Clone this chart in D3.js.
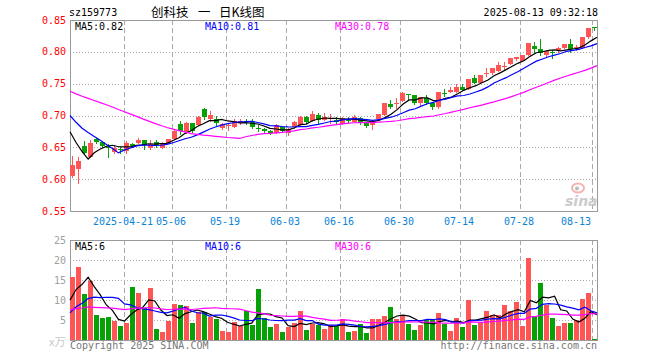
<!DOCTYPE html>
<html><head><meta charset="utf-8">
<script src="https://cdn.jsdelivr.net/npm/d3@7/dist/d3.min.js"></script>
<style>body{margin:0;background:#fff}svg{display:block}</style>
</head><body>
<svg id="c" width="660" height="360"></svg>
<script>
// ---------- data ----------
const stockCode = "sz159773";
const titleParts = ["创科技", "一", "日K线图"];
const timestamp = "2025-08-13 09:32:18";
const priceTicks = [0.55, 0.60, 0.65, 0.70, 0.75, 0.80, 0.85];
const volTicks = [5, 10, 15, 20, 25];
const dateTickIdx = [9, 17, 26, 36, 45, 55, 65, 75, 87];
const dateTickLabels = ["2025-04-21", "05-06", "05-19", "06-03", "06-16", "06-30", "07-14", "07-28", "08-13"];

const open = [0.6054,0.6164,0.6521,0.6353,0.6636,0.6579,0.6510,0.6427,0.6478,0.6443,
0.6552,0.6573,0.6615,0.6490,0.6579,0.6497,0.6563,0.6626,0.6867,0.6741,
0.6878,0.6851,0.7102,0.6945,0.6945,0.6804,0.6835,0.6819,0.6882,0.6914,
0.6898,0.6804,0.6788,0.6757,0.6720,0.6812,0.6720,0.6819,0.6851,0.6976,
0.6906,0.7008,0.6929,0.6945,0.6929,0.6867,0.6935,0.6903,0.6956,0.6887,
0.6851,0.6940,0.7008,0.7181,0.7192,0.7233,0.7340,0.7322,0.7192,0.7270,
0.7201,0.7129,0.7361,0.7369,0.7374,0.7448,0.7412,0.7584,0.7515,0.7657,
0.7663,0.7699,0.7762,0.7804,0.7883,0.7856,0.7950,0.8092,0.8045,0.7950,
0.7997,0.8024,0.8055,0.8118,0.8055,0.8065,0.8233,0.8397];
const high = [0.6369,0.6353,0.6600,0.6615,0.6650,0.6585,0.6552,0.6535,0.6510,0.6592,
0.6573,0.6642,0.6615,0.6615,0.6608,0.6584,0.6636,0.6775,0.6914,0.6898,
0.6878,0.6992,0.7122,0.7071,0.6992,0.6882,0.6875,0.6945,0.6945,0.6945,
0.6945,0.6851,0.6804,0.6772,0.6866,0.6835,0.6800,0.6910,0.6990,0.7000,
0.7071,0.7044,0.7039,0.7024,0.6972,0.6970,0.6972,0.7008,0.6981,0.6887,
0.6903,0.7024,0.7201,0.7243,0.7270,0.7374,0.7340,0.7322,0.7296,0.7322,
0.7201,0.7369,0.7412,0.7443,0.7495,0.7495,0.7573,0.7636,0.7636,0.7741,
0.7741,0.7840,0.7845,0.7898,0.7924,0.7950,0.8139,0.8147,0.8194,0.8029,
0.8029,0.8081,0.8118,0.8197,0.8107,0.8238,0.8379,0.8397];
const low = [0.6039,0.5935,0.6406,0.6353,0.6563,0.6505,0.6353,0.6406,0.6406,0.6416,
0.6510,0.6563,0.6478,0.6480,0.6510,0.6487,0.6563,0.6626,0.6709,0.6720,
0.6736,0.6850,0.6945,0.6914,0.6851,0.6788,0.6780,0.6819,0.6867,0.6867,
0.6804,0.6757,0.6740,0.6709,0.6720,0.6740,0.6686,0.6810,0.6845,0.6890,
0.6906,0.6867,0.6929,0.6890,0.6867,0.6867,0.6878,0.6903,0.6867,0.6824,
0.6788,0.6940,0.7008,0.7118,0.7118,0.7233,0.7243,0.7181,0.7165,0.7176,
0.7107,0.7118,0.7306,0.7369,0.7369,0.7400,0.7412,0.7515,0.7515,0.7620,
0.7652,0.7699,0.7715,0.7804,0.7872,0.7856,0.7950,0.7982,0.7950,0.7919,
0.7898,0.8002,0.8055,0.7993,0.8029,0.8065,0.8222,0.8343];
const close = [0.6227,0.6285,0.6406,0.6573,0.6579,0.6526,0.6490,0.6494,0.6458,0.6568,
0.6520,0.6611,0.6531,0.6552,0.6537,0.6563,0.6626,0.6761,0.6761,0.6887,
0.6761,0.6972,0.6969,0.7008,0.6882,0.6867,0.6845,0.6914,0.6914,0.6898,
0.6819,0.6788,0.6757,0.6725,0.6851,0.6757,0.6788,0.6898,0.6984,0.6898,
0.7016,0.6929,0.6976,0.6961,0.6898,0.6956,0.6925,0.6981,0.6878,0.6835,
0.6903,0.7024,0.7192,0.7141,0.7201,0.7349,0.7338,0.7201,0.7296,0.7201,
0.7129,0.7369,0.7353,0.7400,0.7453,0.7400,0.7573,0.7515,0.7636,0.7663,
0.7741,0.7793,0.7770,0.7898,0.7914,0.7950,0.8131,0.8037,0.7977,0.8013,
0.7990,0.8055,0.8118,0.8045,0.8081,0.8238,0.8379,0.8395];
const volume = [15.8,18.3,11.5,14.8,6.25,5.5,5.75,4.8,3.5,4.2,
13.25,11.75,8.0,13.0,2.75,2.0,4.8,9.0,8.75,8.5,
4.25,7.0,7.0,5.75,5.25,2.25,2.0,4.5,3.5,7.25,
3.75,12.75,5.5,3.25,4.0,2.0,3.25,4.25,7.25,2.5,
4.0,3.75,2.75,3.75,3.5,5.25,2.0,2.25,4.0,1.75,
5.25,5.25,6.0,8.25,5.25,6.25,4.0,2.5,3.75,5.0,
5.0,6.75,4.0,2.25,5.5,3.25,10.0,3.75,4.25,7.25,
6.25,6.25,8.75,7.25,9.5,3.5,20.5,5.75,14.25,8.75,
5.5,3.5,4.25,4.25,5.0,10.25,11.75,0.25];
// sessions before the first visible day (estimated from where the MA lines start)
const priorCloses = [0.748,0.752,0.760,0.758,0.754,0.749,0.756,0.761,0.760,
0.765,0.770,0.768,0.762,0.758,0.760,0.755,0.752,0.750,0.748,0.754,
0.735,0.734,0.725,0.718,0.715,0.713,0.712,0.716,0.609];
const priorVolumes = [8.5,7.2,6.8,9.1,8.0,7.4,6.9,8.8,9.5,7.6,7.0,8.2,7.7,6.5,8.9,9.3,7.1,7.8,6.9,8.8,
3.2,2.8,3.0,2.85,6.35,5,5,6,18];
const maPeriods = [5, 10, 30];

// ---------- drawing ----------
const RED = "#ff5555", GREEN = "#07a007";
const maColors = ["#000000", "#0000ff", "#ff00ff"];
const MONO = "'DejaVu Sans Mono', monospace";
const L = 70, R = 597;
const n = close.length;

const svg = d3.select("#c");
const xBand = d3.scaleLinear().domain([0, n]).range([L, L + 6 * n]);
const xLine = d3.scaleLinear().domain([0, n - 1]).range([L, R]);
const yP = d3.scaleLinear().domain([0.55, 0.85]).range([211, 20]);
const yV = d3.scaleLinear().domain([0, 25]).range([340, 240]);

function movingAvg(prior, vals, p) {
  const all = prior.concat(vals), off = prior.length;
  return vals.map((v, i) => d3.mean(all.slice(off + i - p + 1, off + i + 1)));
}
const priceMA = maPeriods.map(p => movingAvg(priorCloses, close, p));
const volMA = maPeriods.map(p => movingAvg(priorVolumes, volume, p));
const up = d3.range(n).map(i => close[i] >= open[i]);

// header
svg.append("text").attr("x", 69).attr("y", 16).attr("font-family", MONO).attr("font-size", 10).text(stockCode);
const titleX = [151, 198, 219];
titleParts.forEach((t, k) => svg.append("text").attr("x", titleX[k]).attr("y", 16.5)
  .attr("font-family", "'Noto Sans CJK SC', sans-serif").attr("font-size", 12.5).text(t));
svg.append("text").attr("x", 598).attr("y", 16).attr("text-anchor", "end").attr("font-family", MONO).attr("font-size", 10).text(timestamp);

function panel(y, ticks, top, bot) {
  const g = svg.append("g");
  ticks.forEach(t => {
    const yy = Math.round(y(t)) + 0.5;
    if (yy > top + 1 && yy < bot - 1)
      g.append("line").attr("x1", L).attr("x2", R).attr("y1", yy).attr("y2", yy)
        .attr("stroke", "#aaa").attr("stroke-dasharray", "1,2");
  });
  dateTickIdx.forEach(i => {
    const xx = Math.round(xBand(i)) + 0.5;
    g.append("line").attr("x1", xx).attr("x2", xx).attr("y1", top).attr("y2", bot)
      .attr("stroke", "#aaa").attr("stroke-dasharray", "5,3");
  });
  g.append("rect").attr("x", L + 0.5).attr("y", top + 0.5).attr("width", R - L).attr("height", bot - top)
    .attr("fill", "none").attr("stroke", "#999");
  return g;
}

// price panel
panel(yP, priceTicks, 20, 211);
priceTicks.forEach(t => svg.append("text").attr("x", 66).attr("y", yP(t) + 3.5).attr("text-anchor", "end")
  .attr("font-family", MONO).attr("font-size", 10).attr("fill", "#ff0000").text(t.toFixed(2)));

// sina watermark
const wm = svg.append("g").attr("opacity", 0.85);
wm.append("ellipse").attr("cx", 578).attr("cy", 188).attr("rx", 6).attr("ry", 4.5).attr("fill", "none").attr("stroke", "#f3a6a6").attr("stroke-width", 2);
wm.append("circle").attr("cx", 577).attr("cy", 188.5).attr("r", 2).attr("fill", "#b0b0b0");
wm.append("text").attr("x", 565).attr("y", 206).attr("font-family", "'DejaVu Sans', sans-serif")
  .attr("font-style", "italic").attr("font-weight", "bold").attr("font-size", 14).attr("fill", "#c4c4c4").text("sina");

// candles
const cg = svg.append("g");
d3.range(n).forEach(i => {
  const x0 = xBand(i), col = up[i] ? RED : GREEN;
  cg.append("line").attr("x1", x0 + 2.5).attr("x2", x0 + 2.5)
    .attr("y1", Math.round(yP(high[i]))).attr("y2", Math.round(yP(low[i])) + 1)
    .attr("stroke", col).attr("stroke-width", 1);
  const yt = Math.round(yP(Math.max(open[i], close[i])));
  const yb = Math.round(yP(Math.min(open[i], close[i])));
  cg.append("rect").attr("x", x0).attr("y", yt).attr("width", 5).attr("height", Math.max(1, yb - yt))
    .attr("fill", col);
});

// price MA lines
priceMA.forEach((ma, k) => {
  svg.append("path").datum(ma).attr("fill", "none").attr("stroke", maColors[k]).attr("stroke-width", 1.2)
    .attr("d", d3.line().x((d, i) => xLine(i)).y(d => yP(d)));
});

// price legend
const legendX = [75, 205, 335];
maPeriods.forEach((p, k) => svg.append("text").attr("x", legendX[k]).attr("y", 30)
  .attr("font-family", MONO).attr("font-size", 10).attr("fill", maColors[k])
  .text("MA" + p + ":" + priceMA[k][n - 1].toFixed(2)));

// date labels
dateTickIdx.forEach((i, k) => {
  const last = k === dateTickIdx.length - 1;
  svg.append("text").attr("x", xBand(i) - 1).attr("y", 225)
    .attr("text-anchor", last ? "end" : "middle")
    .attr("font-family", MONO).attr("font-size", 10).attr("fill", "#0a84d6").text(dateTickLabels[k]);
});

// volume panel
panel(yV, volTicks, 240, 340);
volTicks.forEach(t => svg.append("text").attr("x", 66).attr("y", yV(t) + 3.5).attr("text-anchor", "end")
  .attr("font-family", MONO).attr("font-size", 10).attr("fill", "#a0a0a0").text(t));
const vg = svg.append("g");
d3.range(n).forEach(i => {
  const yt = Math.round(yV(volume[i]));
  vg.append("rect").attr("x", xBand(i)).attr("y", yt).attr("width", 5).attr("height", Math.max(1, 340 - yt))
    .attr("fill", up[i] ? RED : GREEN);
});
volMA.forEach((ma, k) => {
  svg.append("path").datum(ma).attr("fill", "none").attr("stroke", maColors[k]).attr("stroke-width", 1.2)
    .attr("d", d3.line().x((d, i) => xLine(i)).y(d => yV(d)));
});
maPeriods.forEach((p, k) => svg.append("text").attr("x", legendX[k]).attr("y", 249.5)
  .attr("font-family", MONO).attr("font-size", 10).attr("fill", maColors[k])
  .text("MA" + p + ":" + Math.floor(volMA[k][n - 1])));

// footer
svg.append("text").attr("x", 49).attr("y", 346).attr("font-family", "'Noto Sans CJK SC', sans-serif")
  .attr("font-size", 11).attr("fill", "#c8c8c8").text("x万");
svg.append("text").attr("x", 70).attr("y", 348.5).attr("font-family", MONO).attr("font-size", 10).attr("fill", "#777").text("Copyright 2025 SINA.COM");
svg.append("text").attr("x", 597).attr("y", 348.5).attr("text-anchor", "end").attr("font-family", MONO).attr("font-size", 10).attr("fill", "#777").text("http://finance.sina.com.cn");
</script>
</body></html>
